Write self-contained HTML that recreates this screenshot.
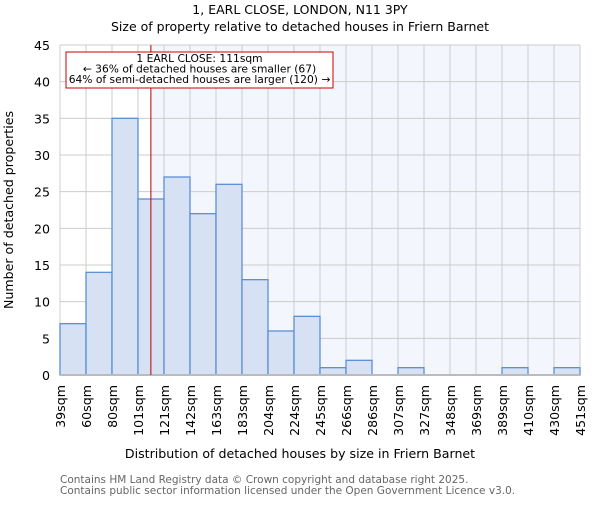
<!DOCTYPE html>
<html><head><meta charset="utf-8"><style>body{margin:0;background:#fff}svg{font-family:"DejaVu Sans","Liberation Sans",sans-serif}</style></head>
<body>
<svg id="c" width="600" height="500">
<text x="300" y="14" text-anchor="middle" font-size="12.5">1, EARL CLOSE, LONDON, N11 3PY</text>
<text x="300" y="31" text-anchor="middle" font-size="12.5">Size of property relative to detached houses in Friern Barnet</text>
<g id="plot"></g>
<text x="300" y="458" text-anchor="middle" font-size="12.6">Distribution of detached houses by size in Friern Barnet</text>
<text transform="translate(13,210) rotate(-90)" text-anchor="middle" font-size="12.6">Number of detached properties</text>
<text x="60" y="483" font-size="10.5" fill="#666">Contains HM Land Registry data © Crown copyright and database right 2025.</text>
<text x="60" y="494" font-size="10.5" fill="#666">Contains public sector information licensed under the Open Government Licence v3.0.</text>
</svg>
<script>
const binLabels=["39sqm","60sqm","80sqm","101sqm","121sqm","142sqm","163sqm","183sqm","204sqm","224sqm","245sqm","266sqm","286sqm","307sqm","327sqm","348sqm","369sqm","389sqm","410sqm","430sqm","451sqm"];
const binEdges=[39,60,80,101,121,142,163,183,204,224,245,266,286,307,327,348,369,389,410,430,451];
const counts=[7,14,35,24,27,22,26,13,6,8,1,2,0,1,0,0,0,1,0,1];
const yTicks=[0,5,10,15,20,25,30,35,40,45];
const subject=111;
const L=60,R=580,T=45,B=375,yMax=45,n=counts.length;
const NS="http://www.w3.org/2000/svg";
const g=document.getElementById('plot');
function xi(i){return L+(R-L)*i/n;}
function xv(v){return L+(R-L)*(v-binEdges[0])/(binEdges[n]-binEdges[0]);}
function y(v){return B-(B-T)*v/yMax;}
function mk(t,a,p){const e=document.createElementNS(NS,t);for(const k in a)e.setAttribute(k,a[k]);(p||g).appendChild(e);return e;}
const xs=xv(subject);
let bg=mk('rect',{x:L,y:T,width:xs-L,height:B-T,fill:'#ffffff'});


let bg2=mk('rect',{x:xs,y:T,width:R-xs,height:B-T,fill:'#f3f6fd'});


yTicks.forEach(t=>{
 let l=mk('line',{x1:L,x2:R,y1:y(t),y2:y(t),stroke:'#cccccc'});
 
 
 let tx=mk('text',{x:L-10,y:y(t)+5,'text-anchor':'end','font-size':12.6});
 tx.textContent=t;
 
 
});
for(let i=0;i<=n;i++){
 let l=mk('line',{x1:xi(i),x2:xi(i),y1:T,y2:B,stroke:'#cccccc'});
 
 
 let tx=mk('text',{transform:`translate(${xi(i)+5},${B+10}) rotate(-90)`,'text-anchor':'end','font-size':12.6});
 tx.textContent=binLabels[i];
 
 
}
counts.forEach((c,i)=>{
 if(c<=0)return;
 let r=mk('rect',{x:xi(i),y:y(c),width:xi(i+1)-xi(i),height:B-y(c),fill:'#d6e2f3',stroke:'#5b8fd6','stroke-width':1.3});
 
 
});
let ax=mk('line',{x1:L,x2:R,y1:B,y2:B,stroke:'#bbbbbb','stroke-width':2});


let rl=mk('line',{x1:xs,x2:xs,y1:T,y2:B,stroke:'#bb0000','stroke-width':1});


let box=mk('rect',{x:66,y:52,width:267,height:36,fill:'#fff',stroke:'#cc0000','stroke-width':1});


["1 EARL CLOSE: 111sqm","← 36% of detached houses are smaller (67)","64% of semi-detached houses are larger (120) →"].forEach((s,k)=>{
 let t=mk('text',{x:199.5,y:62+k*10.5,'text-anchor':'middle','font-size':10.7});
 t.textContent=s;
 
 
});
</script>
</body></html>
